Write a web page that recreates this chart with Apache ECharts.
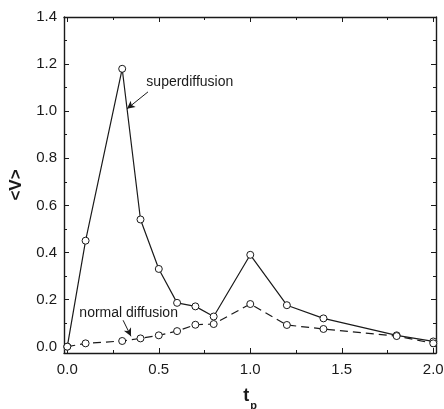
<!DOCTYPE html>
<html>
<head>
<meta charset="utf-8">
<script src="https://cdn.jsdelivr.net/npm/echarts@6/dist/echarts.min.js"></script>
<style>
html,body{margin:0;padding:0;background:#fff;}
#c{width:444px;height:409px;}
</style>
</head>
<body>
<div id="c"></div>
<script>
// ---- data ----
const tp = [0.0, 0.1, 0.3, 0.4, 0.5, 0.6, 0.7, 0.8, 1.0, 1.2, 1.4, 1.8, 2.0];
const superV = [0.0, 0.45, 1.18, 0.54, 0.33, 0.186, 0.171, 0.128, 0.39, 0.176, 0.12, 0.048, 0.022];
const normalV = [0.0, 0.014, 0.024, 0.035, 0.048, 0.066, 0.093, 0.096, 0.181, 0.092, 0.075, 0.045, 0.014];
const xMajor = [0.0, 0.5, 1.0, 1.5, 2.0];
const xMinor = [0.25, 0.75, 1.25, 1.75];
const yMajor = [0.0, 0.2, 0.4, 0.6, 0.8, 1.0, 1.2, 1.4];
const yMinor = [0.1, 0.3, 0.5, 0.7, 0.9, 1.1, 1.3];
// annotation anchors (data coords)
const superArrow = [[0.441, 1.082], [0.326, 1.01]];
const normalArrow = [[0.305, 0.112], [0.348, 0.044]];
const superLabel = [0.432, 1.125];
const normalLabel = [0.066, 0.143];

const X_MIN = -0.018, X_MAX = 2.015, Y_MIN = -0.027, Y_MAX = 1.4;
const FONT = 'Liberation Sans, Arial, sans-serif';
const INK = '#1a1a1a';

function xAx(pos, ticks, len, labels, line, extra) {
  return Object.assign({
    type: 'value', position: pos, min: X_MIN, max: X_MAX, gridIndex: 0,
    axisLine: { show: line, onZero: false, lineStyle: { color: INK, width: 1.4 } },
    axisTick: { show: true, inside: true, length: len, customValues: ticks, lineStyle: { color: INK, width: 1 } },
    axisLabel: labels ? { show: true, customValues: ticks, formatter: v => v.toFixed(1), color: INK, fontSize: 15, fontFamily: FONT, margin: 9 } : { show: false },
    splitLine: { show: false }
  }, extra || {});
}
function yAx(pos, ticks, len, labels, line, extra) {
  return Object.assign({
    type: 'value', position: pos, min: Y_MIN, max: Y_MAX, gridIndex: 0,
    axisLine: { show: line, onZero: false, lineStyle: { color: INK, width: 1.4 } },
    axisTick: { show: true, inside: true, length: len, customValues: ticks, lineStyle: { color: INK, width: 1 } },
    axisLabel: labels ? { show: true, customValues: ticks, formatter: v => v.toFixed(1), color: INK, fontSize: 15, fontFamily: FONT, margin: 7 } : { show: false },
    splitLine: { show: false }
  }, extra || {});
}

const chart = echarts.init(document.getElementById('c'), null, { renderer: 'canvas' });
chart.setOption({
  animation: false,
  backgroundColor: '#fff',
  grid: { left: 64, right: 8, top: 17, bottom: 56, containLabel: false, outerBoundsMode: 'none' },
  xAxis: [
    xAx('bottom', xMajor, 5, true, true, {
      name: '{t|t}{p|p}', nameLocation: 'middle', nameGap: 34,
      nameTextStyle: { rich: {
        t: { fontSize: 18, fontWeight: 'bold', fontFamily: FONT, color: INK },
        p: { fontSize: 11, fontWeight: 'bold', fontFamily: FONT, color: INK, verticalAlign: 'bottom', padding: [0, 0, -6, 1] }
      } }
    }),
    xAx('bottom', xMinor, 3, false, false),
    xAx('top', xMajor, 5, false, true),
    xAx('top', xMinor, 3, false, false)
  ],
  yAxis: [
    yAx('left', yMajor, 5, true, true, {
      name: '<V>', nameLocation: 'middle', nameRotate: 90, nameGap: 38,
      nameTextStyle: { fontSize: 17, fontWeight: 'bold', fontFamily: FONT, color: INK }
    }),
    yAx('left', yMinor, 3, false, false),
    yAx('right', yMajor, 5, false, true),
    yAx('right', yMinor, 3, false, false)
  ],
  series: [
    {
      type: 'line', name: 'superdiffusion', xAxisIndex: 0, yAxisIndex: 0,
      data: tp.map((x, i) => [x, superV[i]]),
      symbol: 'circle', symbolSize: 7, z: 5,
      lineStyle: { color: INK, width: 1.2 },
      itemStyle: { color: '#fff', borderColor: INK, borderWidth: 1 },
      markLine: {
        silent: true, symbol: ['none', 'arrow'], symbolSize: [6, 8],
        lineStyle: { color: INK, width: 1, type: 'solid' }, label: { show: false },
        data: [[{ coord: superArrow[0] }, { coord: superArrow[1] }]]
      },
      markPoint: {
        silent: true, symbol: 'circle', symbolSize: 0,
        label: { show: true, position: 'right', distance: 0, color: INK, fontSize: 14, fontFamily: FONT },
        data: [{ coord: superLabel, value: 'superdiffusion' }]
      }
    },
    {
      type: 'line', name: 'normal diffusion', xAxisIndex: 0, yAxisIndex: 0,
      data: tp.map((x, i) => [x, normalV[i]]),
      symbol: 'circle', symbolSize: 7, z: 5,
      lineStyle: { color: INK, width: 1.2, type: [8, 5] },
      itemStyle: { color: '#fff', borderColor: INK, borderWidth: 1 },
      markLine: {
        silent: true, symbol: ['none', 'arrow'], symbolSize: [6, 8],
        lineStyle: { color: INK, width: 1, type: 'solid' }, label: { show: false },
        data: [[{ coord: normalArrow[0] }, { coord: normalArrow[1] }]]
      },
      markPoint: {
        silent: true, symbol: 'circle', symbolSize: 0,
        label: { show: true, position: 'right', distance: 0, color: INK, fontSize: 14, fontFamily: FONT },
        data: [{ coord: normalLabel, value: 'normal diffusion' }]
      }
    }
  ]
});
</script>
</body>
</html>
